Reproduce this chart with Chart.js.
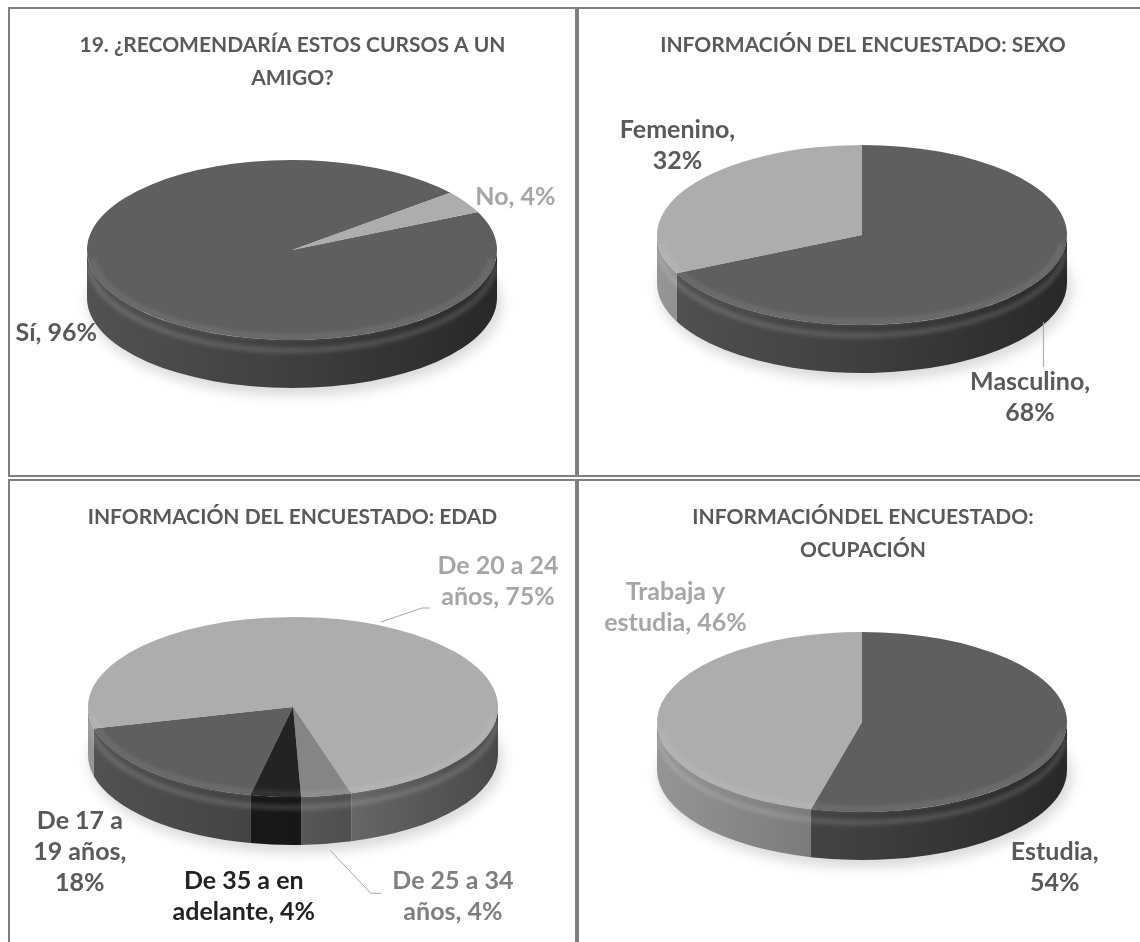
<!DOCTYPE html>
<html>
<head>
<meta charset="utf-8">
<script src="https://cdn.jsdelivr.net/npm/chart.js@4.4.1/dist/chart.umd.min.js"></script>
<style>
  html, body { margin: 0; padding: 0; background: #fff; }
  body { width: 1140px; height: 942px; position: relative; overflow: hidden; }
  .panel { position: absolute; border: 2px solid #7f7f7f; box-sizing: border-box; width: 569px; height: 470px; }
  .panel canvas { position: absolute; left: 0; top: 0; }
</style>
</head>
<body>
<div class="panel" style="left:8px;top:7px"><canvas id="chartRecomienda" width="565" height="466"></canvas></div>
<div class="panel" style="left:577px;top:7px;width:572px"><canvas id="chartSexo" width="568" height="466"></canvas></div>
<div class="panel" style="left:8px;top:479px"><canvas id="chartEdad" width="565" height="466"></canvas></div>
<div class="panel" style="left:577px;top:479px;width:572px"><canvas id="chartOcupacion" width="568" height="466"></canvas></div>
<script>
// datos de la encuesta
var recomiendaLabels = ['Sí', 'No'];
var recomiendaValues = [96, 4];

var sexoLabels = ['Masculino', 'Femenino'];
var sexoValues = [68, 32];

var edadLabels = ['De 17 a 19 años', 'De 20 a 24 años', 'De 25 a 34 años', 'De 35 a en adelante'];
var edadValues = [18, 75, 4, 4];

var ocupacionLabels = ['Estudia', 'Trabaja y estudia'];
var ocupacionValues = [54, 46];

var OSCURO = '#5f5f5f', CLARO = '#adadad', MEDIO = '#858585', NEGRO = '#232323';
var TXT = '#595959';
var FUENTE = 'Lato';
var LINEA = 31;

function tono(hex, f) {
  var n = parseInt(hex.slice(1), 16);
  var r = Math.round(((n >> 16) & 255) * f);
  var g = Math.round(((n >> 8) & 255) * f);
  var b = Math.round((n & 255) * f);
  return 'rgb(' + r + ',' + g + ',' + b + ')';
}

// pastel "3D": la cara superior es el arco de Chart.js aplastado,
// las paredes se dibujan debajo siguiendo los mismos ángulos
var pastel3d = {
  id: 'pastel3d',
  beforeDatasetsDraw: function (chart, args, o) {
    var ctx = chart.ctx;
    var meta = chart.getDatasetMeta(0);

    // sombra suave bajo el pastel
    ctx.save();
    ctx.filter = 'blur(6px)';
    ctx.fillStyle = 'rgba(0,0,0,0.14)';
    ctx.beginPath();
    ctx.ellipse(o.cx + 3, o.cy + o.depth + 5, o.a + 2, o.b + 3, 0, 0, Math.PI * 2);
    ctx.fill();
    ctx.restore();

    meta.data.forEach(function (arc) {
      var p = arc.getProps(['startAngle', 'endAngle'], true);
      var color = arc.options.backgroundColor;
      for (var k = -2; k <= 2; k++) {
        var a0 = Math.max(p.startAngle, 2 * Math.PI * k);
        var a1 = Math.min(p.endAngle, 2 * Math.PI * k + Math.PI);
        if (a1 <= a0) continue;
        var g = ctx.createLinearGradient(o.cx - o.a, 0, o.cx + o.a, 0);
        g.addColorStop(0, tono(color, 0.86));
        g.addColorStop(0.5, tono(color, 0.66));
        g.addColorStop(1, tono(color, 0.42));
        ctx.beginPath();
        ctx.ellipse(o.cx, o.cy, o.a, o.b, 0, a0, a1);
        ctx.ellipse(o.cx, o.cy + o.depth, o.a, o.b, 0, a1, a0, true);
        ctx.closePath();
        ctx.fillStyle = g;
        ctx.fill();
      }
    });

    // brillo en el canto
    ctx.save();
    ctx.filter = 'blur(2px)';
    ctx.strokeStyle = 'rgba(255,255,255,0.16)';
    ctx.lineWidth = 5;
    ctx.beginPath();
    ctx.ellipse(o.cx, o.cy + o.depth * 0.22, o.a - 1, o.b, 0, 0.05, Math.PI - 0.05);
    ctx.stroke();
    ctx.restore();

    var c = meta.data[0].getProps(['x', 'y', 'outerRadius'], true);
    ctx.save();
    ctx.translate(o.cx, o.cy);
    ctx.scale(o.a / c.outerRadius, o.b / c.outerRadius);
    ctx.translate(-c.x, -c.y);
  },
  afterDatasetsDraw: function (chart, args, o) {
    var ctx = chart.ctx;
    ctx.restore();
    ctx.save();
    ctx.filter = 'blur(2px)';
    ctx.strokeStyle = 'rgba(255,255,255,0.10)';
    ctx.lineWidth = 5;
    ctx.beginPath();
    ctx.ellipse(o.cx, o.cy, o.a - 4, o.b - 3, 0, 0.1, Math.PI - 0.1);
    ctx.stroke();
    ctx.restore();
  }
};

function partir(ctx, texto, ancho) {
  var palabras = texto.split(' ');
  var lineas = [];
  var actual = '';
  palabras.forEach(function (w) {
    var prueba = actual ? actual + ' ' + w : w;
    if (actual && ctx.measureText(prueba).width > ancho) {
      lineas.push(actual);
      actual = w;
    } else {
      actual = prueba;
    }
  });
  lineas.push(actual);
  return lineas;
}

var etiquetas = {
  id: 'etiquetas',
  afterDraw: function (chart, args, o) {
    var ctx = chart.ctx;
    var g = chart.options.plugins.pastel3d;
    var ds = chart.data.datasets[0];
    ctx.save();
    ctx.font = 'bold 25px ' + FUENTE;
    ctx.textAlign = 'center';
    ctx.textBaseline = 'middle';
    o.items.forEach(function (it, i) {
      if (it.guia) {
        ctx.strokeStyle = '#a6a6a6';
        ctx.lineWidth = 1;
        ctx.beginPath();
        it.guia.forEach(function (q, j) {
          var px = g.cx + q[0] * g.a, py = g.cy + q[1] * g.b;
          if (j === 0) ctx.moveTo(px, py); else ctx.lineTo(px, py);
        });
        ctx.stroke();
      }
      var texto = chart.data.labels[i] + ', ' + ds.data[i] + '%';
      var lineas = partir(ctx, texto, it.ancho);
      var x = g.cx + it.pos[0] * g.a;
      var y = g.cy + it.pos[1] * g.b - (lineas.length - 1) * LINEA / 2;
      ctx.fillStyle = it.color;
      lineas.forEach(function (l, j) { ctx.fillText(l, x, y + j * LINEA); });
    });
    ctx.restore();
  }
};

function crearPastel(id, titulo, labels, values, colores, rotacion, geo, items) {
  return new Chart(document.getElementById(id), {
    type: 'pie',
    data: {
      labels: labels,
      datasets: [{
        data: values,
        backgroundColor: colores,
        borderWidth: 0,
        clip: false
      }]
    },
    options: {
      responsive: false,
      animation: false,
      devicePixelRatio: 1,
      rotation: rotacion,
      events: [],
      layout: { padding: 0 },
      plugins: {
        legend: { display: false },
        tooltip: { enabled: false },
        title: {
          display: true,
          text: titulo,
          color: TXT,
          font: { family: FUENTE, size: 21, weight: 'bold', lineHeight: 1.57 },
          padding: { top: 20, bottom: 10 }
        },
        pastel3d: geo,
        etiquetas: { items: items }
      }
    },
    plugins: [pastel3d, etiquetas]
  });
}

var pieRecomienda = crearPastel('chartRecomienda',
  ['19. ¿RECOMENDARÍA ESTOS CURSOS A UN', 'AMIGO?'],
  recomiendaLabels, recomiendaValues, [OSCURO, CLARO], 65,
  { cx: 282, cy: 241, a: 205, b: 90, depth: 48 },
  [
    { pos: [-1.15, 0.92], color: TXT, ancho: 200 },
    { pos: [1.09, -0.59], color: '#a6a6a6', ancho: 200 }
  ]);

var pieSexo = crearPastel('chartSexo',
  'INFORMACIÓN DEL ENCUESTADO: SEXO',
  sexoLabels, sexoValues, [OSCURO, CLARO], 0,
  { cx: 283, cy: 226, a: 205, b: 90, depth: 48 },
  [
    { pos: [0.82, 1.81], color: TXT, ancho: 130, guia: [[0.885, 0.967], [0.885, 1.467]] },
    { pos: [-0.9, -0.99], color: TXT, ancho: 125 }
  ]);

var pieEdad = crearPastel('chartEdad',
  'INFORMACIÓN DEL ENCUESTADO: EDAD',
  edadLabels, edadValues, [OSCURO, CLARO, MEDIO, NEGRO], 192,
  { cx: 283, cy: 226, a: 205, b: 90, depth: 48 },
  [
    { pos: [-1.04, 1.61], color: TXT, ancho: 100 },
    { pos: [1.0, -1.39], color: '#a6a6a6', ancho: 125, guia: [[0.429, -0.944], [0.629, -1.1], [0.668, -1.1]] },
    { pos: [0.78, 2.11], color: '#7f7f7f', ancho: 125, guia: [[0.18, 1.589], [0.38, 2.07], [0.43, 2.07]] },
    { pos: [-0.24, 2.11], color: '#232323', ancho: 150 }
  ]);

var pieOcupacion = crearPastel('chartOcupacion',
  ['INFORMACIÓNDEL ENCUESTADO:', 'OCUPACIÓN'],
  ocupacionLabels, ocupacionValues, [OSCURO, CLARO], 0,
  { cx: 283, cy: 241, a: 205, b: 90, depth: 48 },
  [
    { pos: [0.94, 1.62], color: TXT, ancho: 110 },
    { pos: [-0.91, -1.27], color: '#a6a6a6', ancho: 150 }
  ]);
</script>
</body>
</html>
